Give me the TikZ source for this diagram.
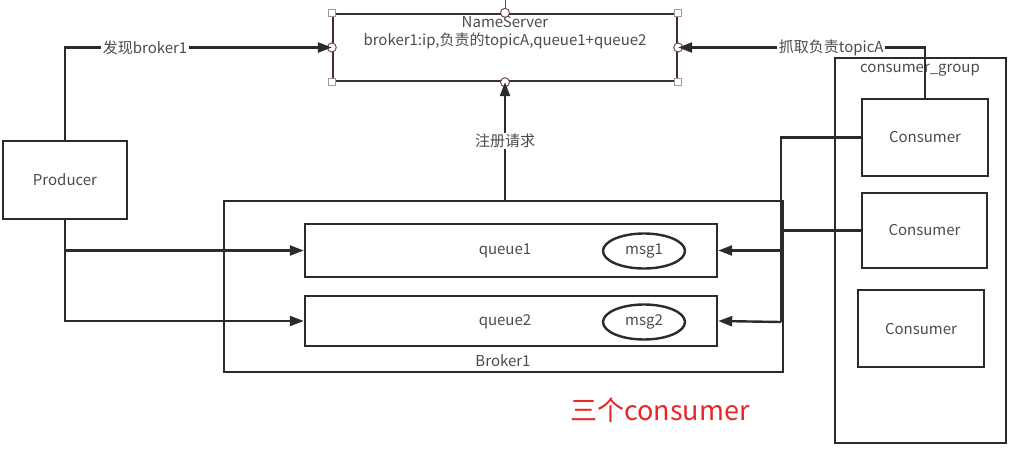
\documentclass[tikz,border=0pt]{standalone}
\usepackage{fontspec}
\setmainfont{Noto Sans CJK SC}
\usetikzlibrary{arrows.meta,shapes.geometric}
\definecolor{ink}{HTML}{2B2B2B}
\definecolor{handle}{HTML}{7A4A4A}
\definecolor{note}{HTML}{E8262A}
\tikzset{>={Triangle[length=14pt,width=10pt]}}
\tikzset{
  box/.style = {draw=ink,line width=2.4pt,inner sep=0pt,text=ink!85,
    font=\fontsize{15}{18}\selectfont},
  msgbox/.style = {box,ellipse,minimum width=82pt,minimum height=35pt},
  wire/.style = {draw=ink,line width=2.4pt},
  tag/.style = {fill=white,inner sep=1.5pt,text=ink!85,font=\fontsize{15}{18}\selectfont}
}

\begin{document}
\begin{tikzpicture}[x=1pt,y=-1pt]
  \useasboundingbox (0,0) rectangle (1016,465);
  % name server
  \node[box,draw=ink!80!handle,minimum width=344pt,minimum height=67pt] (ns) at (505,47.5) {};
  \node[tag,fill=none,align=center] (nstext) at (505,33) {NameServer\\broker1:ip,负责的topicA,queue1+queue2};
  % selection handles
  \draw[handle,line width=1pt] (ns.north) -- ++(0,-14);
  \foreach \a in {north west,north east,south west,south east}
    \draw[handle!60,fill=white,line width=1pt] ([shift={(-3.5,-3.5)}]ns.\a) rectangle +(7,7);
  \foreach \a in {north,south,west,east}
    \draw[handle,fill=white,line width=1pt] (ns.\a) circle[radius=4.5pt];
  % producer
  \node[box,minimum width=124pt,minimum height=78pt] (producer) at (65,180) {Producer};
  % broker, queues
  \node[box,minimum width=559pt,minimum height=171pt] (broker) at (503.5,286.5) {};
  \node[tag,fill=none] (brokertext) at (503,361) {Broker1};
  \node[box,minimum width=412pt,minimum height=53pt] (q1) at (511,250.5) {};
  \node[tag,fill=none] (q1text) at (505,251) {queue1};
  \node[msgbox] (msg1) at (644,251) {msg1};
  \node[box,minimum width=412pt,minimum height=50pt] (q2) at (511,321) {};
  \node[tag,fill=none] (q2text) at (505,322) {queue2};
  \node[msgbox] (msg2) at (644,322) {msg2};
  % consumer group
  \node[box,line width=2pt,minimum width=171pt,minimum height=385pt] (group) at (920.5,250.5) {};
  \node[tag,fill=none] (grouptext) at (920,70) {consumer\_group};
  \node[box,minimum width=126pt,minimum height=77pt] (c1) at (925,137.5) {Consumer};
  \node[box,minimum width=125pt,minimum height=75pt] (c2) at (924.5,230.5) {Consumer};
  \node[box,minimum width=126pt,minimum height=77pt] (c3) at (921,328.5) {Consumer};
  % connectors
  \draw[->,wire] (producer.north) |- node[tag,pos=0.65] {发现broker1} (ns.west);
  \draw[->,wire] (producer.south) |- (q1.west);
  \draw[->,wire] (producer.south) |- (q2.west);
  \draw[->,wire] (broker.north -| ns.south) -- node[tag] {注册请求} (ns.south);
  \draw[->,wire] (c1.north) |- node[tag,pos=0.69] {抓取负责topicA} (ns.east);
  \coordinate (bus) at (781,322);
  \draw[wire] (c1.west) -| (bus);
  \draw[wire] (c2.west) -- (c2.west -| bus);
  \draw[->,wire] (bus |- q1.east) -- (q1.east);
  \draw[->,wire] (bus) -- (q2.east);
  % note
  \node[text=note,font=\fontsize{27}{30}\selectfont] (notetext) at (660,410) {三个consumer};
\end{tikzpicture}
\end{document}
